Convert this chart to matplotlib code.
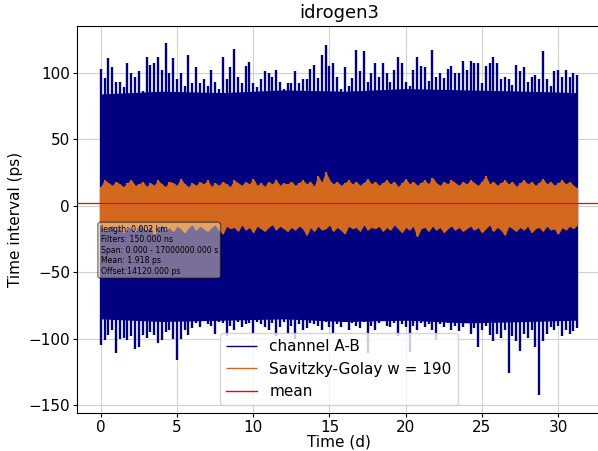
import numpy as np
import matplotlib
matplotlib.use("Agg")
import matplotlib.pyplot as plt

# sample grid (days), one bin every 0.25 d
days = np.arange(0, 31.26, 0.25)

# channel A-B: per-bin maxima / minima (ps)
chan_max = [103, 96, 111, 104, 93, 93, 89, 107,
            100, 97, 101, 86, 112, 106, 107, 112,
            102, 122, 100, 111, 95, 100, 90, 113,
            92, 104, 92, 95, 90, 102, 93, 88,
            112, 95, 104, 118, 97, 92, 105, 108,
            92, 89, 95, 101, 100, 97, 102, 93,
            88, 92, 92, 101, 92, 95, 95, 103,
            106, 96, 113, 121, 105, 107, 97, 88,
            104, 90, 96, 117, 101, 116, 93, 100,
            107, 97, 107, 100, 93, 102, 112, 107,
            93, 90, 102, 112, 105, 104, 94, 117,
            97, 100, 96, 103, 105, 100, 100, 109,
            102, 109, 107, 107, 92, 105, 107, 112,
            107, 95, 97, 95, 91, 106, 101, 104,
            93, 97, 98, 95, 116, 95, 90, 101,
            102, 97, 102, 97, 100, 98]
chan_min = [-105, -101, -97, -93, -111, -100, -99, -101,
            -98, -108, -106, -97, -99, -95, -97, -103,
            -101, -95, -93, -100, -116, -100, -93, -97,
            -92, -88, -91, -86, -89, -90, -96, -87,
            -88, -98, -90, -93, -87, -91, -89, -88,
            -96, -87, -89, -91, -93, -88, -98, -91,
            -87, -96, -90, -100, -89, -93, -92, -88,
            -89, -90, -93, -87, -91, -96, -89, -91,
            -86, -93, -88, -90, -92, -87, -111, -90,
            -93, -88, -86, -90, -91, -88, -98, -89,
            -91, -110, -90, -93, -88, -91, -89, -93,
            -101, -89, -91, -88, -93, -90, -94, -91,
            -88, -96, -92, -106, -93, -90, -97, -102,
            -96, -99, -93, -126, -98, -102, -109, -96,
            -99, -93, -106, -142, -102, -96, -91, -93,
            -90, -98, -93, -96, -94, -92]

# dense body of channel A-B (typical extent)
body_days = [0, 4, 8, 12, 16, 20, 24, 28, 31.25]
body_top = [84, 86, 85, 87, 86, 88, 87, 86, 85]
body_bottom = [-85, -87, -86, -85, -87, -86, -88, -87, -86]

# Savitzky-Golay filtered: per-bin maxima / minima (ps)
sg_max = [14, 19, 17, 15, 18, 16, 14, 17, 19, 15, 16, 18, 14, 17, 15, 19, 16, 14, 18, 17, 15, 20, 16, 14, 17,
          15, 18, 16, 19, 14, 17, 15, 18, 16, 14, 19, 17, 15, 18, 16, 20, 15, 17, 14, 18, 16, 19, 15, 17,
          16, 18, 15, 17, 19, 16, 18, 14, 22, 17, 25, 19, 16, 18, 15, 17, 19, 16, 18, 15, 17, 20, 16, 18,
          15, 17, 19, 16, 18, 14, 17, 20, 16, 18, 15, 17, 19, 16, 21, 17, 15, 18, 16, 19, 17, 15, 18, 16,
          19, 17, 15, 18, 22, 16, 18, 15, 17, 19, 16, 18, 14, 17, 19, 16, 18, 15, 17, 20, 16, 18, 15, 17, 19, 16, 18, 15, 13]
sg_min = [-15, -19, -17, -14, -18, -16, -20, -15, -17, -19, -14, -16, -18, -15, -21, -17, -14, -18, -16, -19, -15, -17, -20, -16, -14,
          -18, -15, -17, -19, -16, -14, -18, -21, -15, -17, -16, -19, -14, -18, -16, -20, -15, -17, -19, -16, -14, -18, -15, -17,
          -19, -16, -18, -15, -17, -22, -16, -19, -15, -18, -17, -14, -19, -16, -18, -21, -15, -17, -16, -19, -14, -18, -16, -17,
          -15, -19, -16, -18, -14, -17, -20, -16, -18, -15, -23, -17, -16, -19, -15, -18, -16, -20, -17, -15, -18, -16, -19, -17,
          -15, -18, -16, -20, -17, -14, -19, -16, -18, -22, -15, -17, -19, -16, -18, -15, -20, -17, -16, -19, -15, -18, -17, -21, -16, -18, -15, -17, -14]

mean_val = 1.918
title = "idrogen3"
info_lines = ["length: 0.002 km", "Filters: 150.000 ns",
              "Span: 0.000 - 17000000.000 s", "Mean: 1.918 ps",
              "Offset:14120.000 ps"]

plt.rcParams['font.family'] = ['DejaVu Sans']
fig = plt.figure(figsize=(5.98, 4.51), dpi=100)
ax = fig.add_axes([0.1288, 0.0843, 0.876, 0.858])

ax.grid(True, color='#d0d0d0', linewidth=0.8, zorder=0)
ax.set_axisbelow(True)

navy = '#000080'
ax.fill_between(body_days, body_bottom, body_top, color=navy, linewidth=0, zorder=2)
ax.vlines(days, chan_min, chan_max, colors=navy, linewidth=1.7, zorder=2,
          label='channel A-B')

orange = '#D2691E'
ax.fill_between(days, sg_min, sg_max, color=orange, linewidth=0.6, edgecolor=orange, zorder=3)
ax.vlines(days, sg_min, sg_max, colors=orange, linewidth=1.5, zorder=3,
          label='Savitzky-Golay w = 190')

ax.axhline(mean_val, color='red', linewidth=0.9, zorder=4, label='mean')

ax.set_xlim(-1.56, 32.8)
ax.set_ylim(-155.7, 135)
ax.set_xticks([0, 5, 10, 15, 20, 25, 30])
ax.set_yticks([-150, -100, -50, 0, 50, 100])
ax.tick_params(labelsize=11, pad=2, length=3)
ax.set_xlabel('Time (d)', fontsize=11, labelpad=0)
ax.set_ylabel('Time interval (ps)', fontsize=11, labelpad=4)
ax.set_title(title, fontsize=13)

ax.text(0.045, 0.486, "\n".join(info_lines), transform=ax.transAxes,
        fontsize=5.6, va='top', ha='left', zorder=6,
        bbox=dict(boxstyle='round,pad=0.35', facecolor='wheat', alpha=0.5))

leg = ax.legend(loc='lower center', fontsize=11)
for h in leg.legend_handles:
    h.set_linewidth(1.0)

fig.savefig('out.png', dpi=100)
